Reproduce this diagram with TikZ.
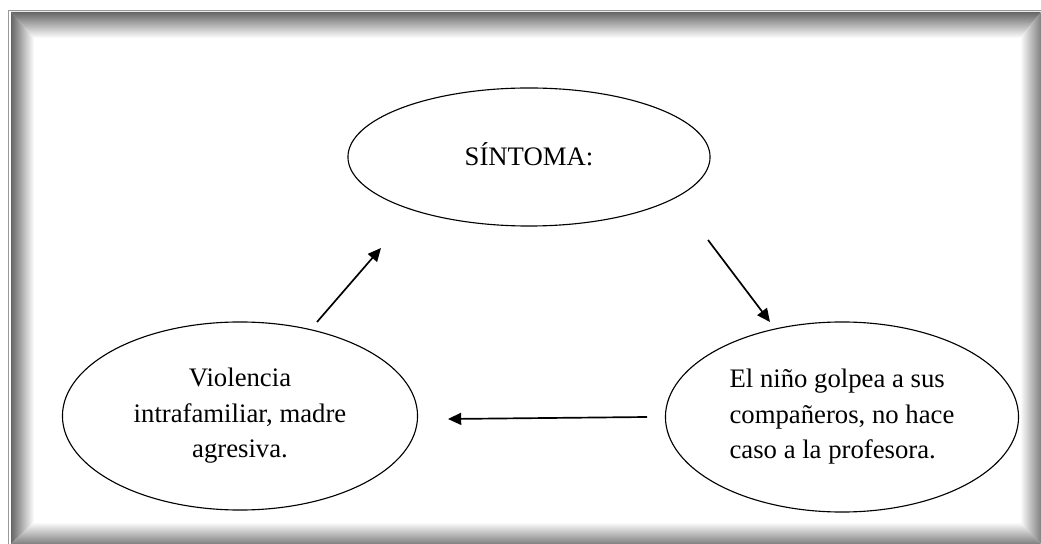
\documentclass[tikz,border=0pt]{standalone}
\usepackage{fontspec}
\setmainfont{Liberation Serif}
\usetikzlibrary{shapes.geometric,arrows.meta}
\begin{document}
\begin{tikzpicture}[x=0.025cm,y=-0.025cm,
        burbuja/.style={draw, ellipse, line width=0.8pt, inner sep=0pt,
                font=\fontsize{19}{25.2}\selectfont},
        flecha/.style={line width=1.2pt, -{Triangle[length=0.33cm,width=0.3cm]}}]
                \useasboundingbox (0,0) rectangle (1041,544);
                % marco con sombra interior
                \fill[white] (0,0) rectangle (1041,544);
                \draw [gray!80, line width=0.6pt] (8,10) rectangle (1060,560);
                \shade [left color=black!60, right color=white] (11,12) -- (34,38) -- (34,522) -- (11,544) -- cycle;
                \shade [top color=black!60, bottom color=white] (11,12) -- (1041,12) -- (1020,38) -- (34,38) -- cycle;
                \shade [left color=white, right color=black!50] (1041,12) -- (1041,544) -- (1020,522) -- (1020,38) -- cycle;
                \shade [top color=white, bottom color=black!50] (11,544) -- (34,522) -- (1020,522) -- (1041,544) -- cycle;

                \node [burbuja, minimum width=9.05cm, minimum height=3.45cm] (sintoma) at (529,157)
                        {\raisebox{0.15cm}{SÍNTOMA:}};
                \node [burbuja, align=center, minimum width=8.875cm, minimum height=4.7cm] (familia) at (240,416)
                        {Violencia\\intrafamiliar, madre\\agresiva.};
                \node [burbuja, align=left, minimum width=8.825cm, minimum height=4.75cm] (nino) at (842,417)
                        {El niño golpea a sus\\compañeros, no hace\\caso a la profesora.};

                \coordinate (a1) at (317,322);
                \coordinate (a2) at (381,248);
                \coordinate (b1) at (708,240);
                \coordinate (b2) at (770,322);
                \coordinate (c1) at (647,417);
                \coordinate (c2) at (448,419);
                \draw [flecha] (a1) -- (a2);
                \draw [flecha] (b1) -- (b2);
                \draw [flecha] (c1) -- (c2);
\end{tikzpicture}
\end{document}
